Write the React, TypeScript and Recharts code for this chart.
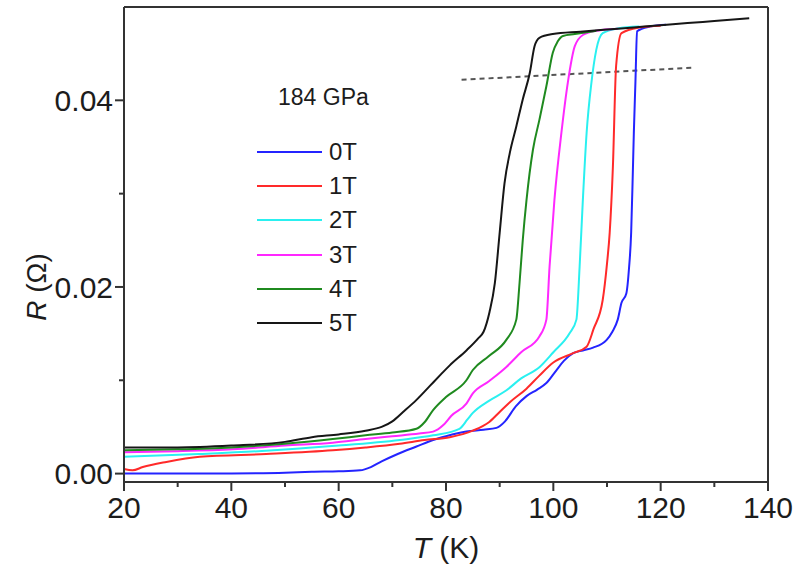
import React from 'react';
import { LineChart, Line, XAxis, YAxis, Legend, ReferenceLine } from 'recharts';

// R(T) curves at 184 GPa, one list of [T (K), R (ohm)] per field
const curve0T: [number, number][] = [
    [20, 0.0], [30, 0.0], [40, 0.00002], [50, 0.0001], [55, 0.0002], [60, 0.00025], [64, 0.00035],
    [66, 0.0007], [68, 0.0013], [71, 0.0021], [74.5, 0.0029], [77.6, 0.0036], [80, 0.004],
    [83.8, 0.0045], [87, 0.0047], [89.4, 0.0049], [91, 0.0056], [93, 0.0072], [95, 0.0083],
    [97, 0.009], [98.7, 0.0097], [100.6, 0.0111], [102, 0.0121], [103.7, 0.0129], [105.5, 0.0132],
    [107.4, 0.0135], [109.9, 0.0143], [111, 0.0152], [112, 0.0165], [112.7, 0.0183], [113.6, 0.0193],
    [114.1, 0.022], [114.5, 0.0258], [114.8, 0.032], [115, 0.0365], [115.3, 0.042], [115.6, 0.0474],
    [118, 0.0479], [121, 0.0481],
];
const curve1T: [number, number][] = [
    [20, 0.0005], [21.6, 0.00035], [23.5, 0.0007], [27.9, 0.00125], [34.1, 0.0018], [46.5, 0.0021],
    [58.9, 0.0025], [65, 0.0028], [71.4, 0.0032], [76, 0.0036], [80.7, 0.0039], [85, 0.0046],
    [88, 0.0055], [90, 0.0066], [92, 0.0077], [95, 0.0091], [97.4, 0.0105], [100, 0.0119],
    [103.7, 0.0129], [106.2, 0.0136], [107.5, 0.0155], [109.2, 0.0186], [110, 0.0225], [110.5, 0.0258],
    [111.1, 0.0329], [111.7, 0.0437], [112.7, 0.0472], [116, 0.0478], [120, 0.048],
];
const curve2T: [number, number][] = [
    [20, 0.0018], [34, 0.0021], [45, 0.0024], [52.7, 0.0027], [60, 0.003], [71.4, 0.0036],
    [77.6, 0.0041], [82.5, 0.0048], [84, 0.0058], [85, 0.0065], [88, 0.0078], [91.2, 0.0089],
    [94, 0.0102], [97.4, 0.0114], [100, 0.013], [103, 0.015], [104.3, 0.0165], [104.9, 0.0222],
    [105.5, 0.0293], [106.2, 0.0365], [107.1, 0.0419], [108, 0.0454], [109.2, 0.0472], [112, 0.0477],
    [116, 0.0479],
];
const curve3T: [number, number][] = [
    [20, 0.0023], [30, 0.0024], [40.3, 0.0026], [50, 0.003], [58.9, 0.0033], [65, 0.0037],
    [70, 0.004], [75, 0.0043], [77.6, 0.0045], [79.5, 0.0052], [81, 0.0062], [83.8, 0.0075],
    [85, 0.0086], [88, 0.0099], [91.2, 0.0114], [94, 0.013], [97.4, 0.0147], [98.7, 0.0165],
    [99.3, 0.0222], [100.2, 0.0293], [101.5, 0.0365], [102.7, 0.0419], [104, 0.0458], [105.5, 0.047],
    [108, 0.04745], [112, 0.04767],
];
const curve4T: [number, number][] = [
    [20, 0.0025], [30, 0.0026], [40, 0.0028], [50, 0.0032], [58.9, 0.0037], [65, 0.0041],
    [70, 0.0044], [74.5, 0.0048], [76, 0.0055], [77.6, 0.0068], [80, 0.0082], [83.8, 0.01],
    [85, 0.0111], [88, 0.0126], [91.2, 0.0143], [93.1, 0.0165], [93.7, 0.0204], [94.3, 0.025],
    [95, 0.0293], [96.2, 0.0347], [97.4, 0.0379], [98.7, 0.0415], [99.9, 0.0451], [100.8, 0.0463],
    [101.8, 0.0469], [104, 0.0471], [108, 0.04745],
];
const curve5T: [number, number][] = [
    [20, 0.0028], [30, 0.0028], [40, 0.003], [50, 0.0034], [55, 0.0039], [60, 0.0042], [65, 0.0046],
    [68, 0.005], [70, 0.0056], [72, 0.0066], [74.5, 0.0079], [77, 0.0094], [79, 0.0106], [80.7, 0.0116],
    [83.8, 0.0132], [86, 0.0145], [87, 0.0152], [88.1, 0.0173], [89.1, 0.0204], [90, 0.0258],
    [90.9, 0.0311], [91.9, 0.0344], [93.1, 0.0372], [94.3, 0.0401], [95.6, 0.0429], [96.5, 0.0458],
    [97.4, 0.0467], [99.9, 0.0471], [105, 0.04735], [110, 0.04758], [115, 0.04781], [120, 0.04804],
    [125, 0.04828], [130, 0.0485], [136.5, 0.0488],
];

// dotted guide line across the transitions
const guideStart = { x: 82.9, y: 0.0422 };
const guideEnd = { x: 126, y: 0.0435 };

const pressureLabel = '184 GPa';
const xTicks = [20, 30, 40, 50, 60, 70, 80, 90, 100, 110, 120, 130, 140];
const yTicks = [0, 0.01, 0.02, 0.03, 0.04];

const series = [
    { name: '0T', points: curve0T, color: '#2424ff' },
    { name: '1T', points: curve1T, color: '#ff2a2a' },
    { name: '2T', points: curve2T, color: '#2af0f0' },
    { name: '3T', points: curve3T, color: '#ff28ff' },
    { name: '4T', points: curve4T, color: '#1f8a1f' },
    { name: '5T', points: curve5T, color: '#161616' },
];

const FONT = '"Liberation Sans", Arial, sans-serif';
const AXIS = '#333';
const TEXT = '#1c1c1c';
const X_TICK_SIZE = 9;
const X_TICK_MARGIN = 6;
const Y_TICK_SIZE = 9;
const Y_TICK_MARGIN = 2;

const XTick = (props: any) => {
    const { x, y, payload } = props;
    const axisY = y - X_TICK_SIZE - X_TICK_MARGIN;
    const major = payload.value % 20 === 0;
    return (
        <g>
            <line x1={x} x2={x} y1={axisY} y2={axisY + (major ? 9 : 5)} stroke={AXIS} strokeWidth={2} />
            {major && (
                <text x={x} y={axisY + 15} dy="0.71em" textAnchor="middle" fontSize={30} fontFamily={FONT} fill={TEXT}>
                    {payload.value}
                </text>
            )}
        </g>
    );
};

const YTick = (props: any) => {
    const { x, y, payload } = props;
    const axisX = x + Y_TICK_SIZE + Y_TICK_MARGIN;
    const major = Math.round(payload.value * 100) % 2 === 0;
    return (
        <g>
            <line x1={axisX - (major ? 9 : 5)} x2={axisX} y1={y} y2={y} stroke={AXIS} strokeWidth={2} />
            {major && (
                <text x={x} y={y} dy="0.36em" textAnchor="end" fontSize={30} fontFamily={FONT} fill={TEXT}>
                    {payload.value.toFixed(2)}
                </text>
            )}
        </g>
    );
};

const XTitle = (props: any) => {
    const { viewBox } = props;
    return (
        <text x={viewBox.x + viewBox.width / 2} y={viewBox.y + 76} textAnchor="middle" fontSize={30} fontFamily={FONT} fill={TEXT}>
            <tspan fontStyle="italic">T</tspan> (K)
        </text>
    );
};

const YTitle = (props: any) => {
    const { viewBox } = props;
    const cx = 46;
    const cy = viewBox.y + 280;
    return (
        <text x={cx} y={cy} textAnchor="middle" fontSize={28} fontFamily={FONT} fill={TEXT} transform={`rotate(-90, ${cx}, ${cy})`}>
            <tspan fontStyle="italic">R</tspan> (Ω)
        </text>
    );
};

const renderLegend = () => (
    <div style={{ fontFamily: FONT, color: TEXT, width: 120 }}>
        <div style={{ fontSize: 23, lineHeight: '34px', marginLeft: 21, marginBottom: 21, whiteSpace: 'nowrap' }}>
            {pressureLabel}
        </div>
        {series.map((s) => (
            <div key={s.name} style={{ display: 'flex', alignItems: 'center', height: 34.2 }}>
                <div style={{ width: 65, height: 2, background: s.color }} />
                <span style={{ fontSize: 24, marginLeft: 7 }}>{s.name}</span>
            </div>
        ))}
    </div>
);

export default function App() {
    return (
        <div style={{ position: 'absolute', left: 0, top: 0, width: 796, height: 572, background: '#fff' }}>
            <LineChart width={796} height={572} margin={{ top: 7, right: 28, bottom: 0, left: 0 }}>
                <XAxis
                    dataKey="t"
                    type="number"
                    domain={[20, 140]}
                    ticks={xTicks}
                    interval={0}
                    height={90}
                    tickSize={X_TICK_SIZE}
                    tickMargin={X_TICK_MARGIN}
                    tickLine={false}
                    tick={<XTick />}
                    axisLine={{ stroke: AXIS, strokeWidth: 2 }}
                    allowDuplicatedCategory={false}
                    label={{ content: <XTitle /> }}
                />
                <YAxis
                    type="number"
                    domain={[-0.0009, 0.05]}
                    ticks={yTicks}
                    interval={0}
                    width={124}
                    tickSize={Y_TICK_SIZE}
                    tickMargin={Y_TICK_MARGIN}
                    tickLine={false}
                    tick={<YTick />}
                    axisLine={{ stroke: AXIS, strokeWidth: 2 }}
                    label={{ content: <YTitle /> }}
                />
                <ReferenceLine y={0.05} stroke={AXIS} strokeWidth={2} />
                <ReferenceLine x={140} stroke={AXIS} strokeWidth={2} />
                <ReferenceLine segment={[guideStart, guideEnd]} stroke="#555" strokeWidth={2} strokeDasharray="5 4" />
                {series.map((s) => (
                    <Line
                        key={s.name}
                        name={s.name}
                        data={s.points.map(([t, r]) => ({ t, r }))}
                        dataKey="r"
                        type="monotone"
                        stroke={s.color}
                        strokeWidth={2}
                        dot={false}
                        isAnimationActive={false}
                    />
                ))}
                <Legend
                    layout="vertical"
                    align="center"
                    verticalAlign="middle"
                    content={renderLegend}
                    wrapperStyle={{ left: 257, top: 80, width: 120 }}
                />
            </LineChart>
        </div>
    );
}
